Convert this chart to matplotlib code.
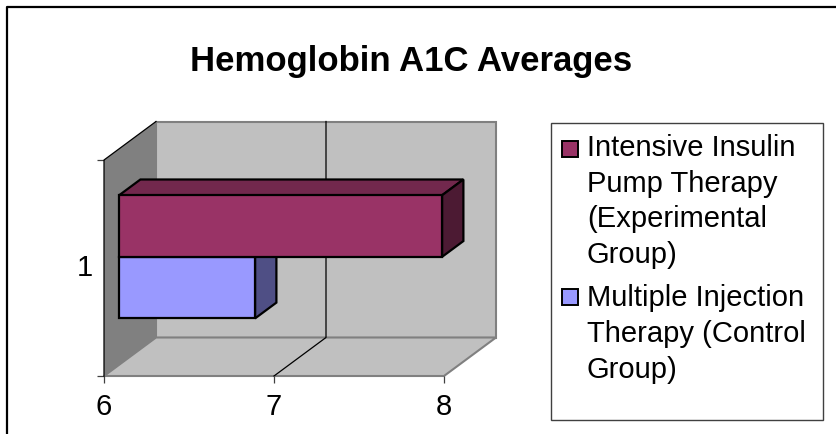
import matplotlib
matplotlib.use('Agg')
import matplotlib.pyplot as plt
from matplotlib.patches import Rectangle

plt.rcParams['font.family'] = ['Liberation Sans', 'DejaVu Sans']

title = 'Hemoglobin A1C Averages'
series_names = ['Intensive Insulin\nPump Therapy\n(Experimental\nGroup)',
                'Multiple Injection\nTherapy (Control\nGroup)']
series_values = [7.9, 6.8]
category = 1
x_ticks = [6, 7, 8]

W, H = 837, 434
XMIN, XMAX = 6, 8
YMIN, YMAX = 0.5, 1.5
# size of the 3d box depth, in data units
DEPTH_X = 52 / 170
DEPTH_Y = 38.5 / 216
BAR_H = 0.285
D0, D1 = 0.29, 0.70

PUMP = ['#993366', '#72284D', '#4C1A33']
CTRL = ['#9999FF', '#7272BF', '#4F4F85']


def proj(x, y, d):
    return x + d * DEPTH_X, y + d * DEPTH_Y


def face(ax, pts, color, ec='k', lw=1.6, z=2):
    xs, ys = zip(*[proj(*p) for p in pts])
    ax.fill(xs, ys, fc=color, ec=ec, lw=lw, zorder=z, clip_on=False, joinstyle='miter')


def draw_bar(ax, val, y0, y1, cols, z):
    face(ax, [(XMIN, y1, D0), (val, y1, D0), (val, y1, D1), (XMIN, y1, D1)], cols[1], z=z)
    face(ax, [(val, y0, D0), (val, y1, D0), (val, y1, D1), (val, y0, D1)], cols[2], z=z)
    face(ax, [(XMIN, y0, D0), (val, y0, D0), (val, y1, D0), (XMIN, y1, D0)], cols[0], z=z + 0.1)


fig = plt.figure(figsize=(W / 100, H / 100), dpi=100)
ax = fig.add_axes([104 / W, (H - 376) / H, 340 / W, 216 / H])
ax.set_xlim(XMIN, XMAX)
ax.set_ylim(YMIN, YMAX)
ax.patch.set_visible(False)
for s in ax.spines.values():
    s.set_visible(False)

# walls
gray = '#C0C0C0'
edge = '#808080'
face(ax, [(XMIN, YMIN, 1), (XMAX, YMIN, 1), (XMAX, YMAX, 1), (XMIN, YMAX, 1)], gray, ec=edge, lw=1.5, z=1)
face(ax, [(XMIN, YMIN, 0), (XMAX, YMIN, 0), (XMAX, YMIN, 1), (XMIN, YMIN, 1)], gray, ec=edge, lw=1.5, z=1)
face(ax, [(XMIN, YMIN, 0), (XMIN, YMIN, 1), (XMIN, YMAX, 1), (XMIN, YMAX, 0)], edge, ec='none', lw=0, z=1.1)

# grid line, runs over the floor then up the back wall
for t in x_ticks[1:-1]:
    xs, ys = zip(proj(t, YMIN, 0), proj(t, YMIN, 1), proj(t, YMAX, 1))
    ax.plot(xs, ys, color='k', lw=0.9, zorder=1.5, clip_on=False)

# left edges of the box
xs, ys = zip(proj(XMIN, YMIN, 0), proj(XMIN, YMAX, 0), proj(XMIN, YMAX, 1))
ax.plot(xs, ys, color='k', lw=0.9, zorder=1.6, clip_on=False)

# bars, second series is under the first
draw_bar(ax, series_values[1], category - BAR_H, category, CTRL, 2)
draw_bar(ax, series_values[0], category, category + BAR_H, PUMP, 3)

ax.set_xticks(x_ticks)
ax.set_yticks([YMIN, YMAX])
ax.set_yticklabels([])
ax.tick_params(axis='both', length=5, width=0.9, color='#404040', labelsize=21)
ax.xaxis.set_tick_params(pad=7.5)
ax.text(-0.032, category, str(category), fontsize=21, ha='right', va='center',
        transform=ax.get_yaxis_transform(), clip_on=False)

fig.text(411 / W, 1 - 61 / H, title, fontsize=25, fontweight='bold', ha='center', va='center')

# legend box, text lines are top aligned with the swatch so placed by hand
fig.add_artist(Rectangle((551 / W, 1 - 420 / H), 272 / W, 297 / H, transform=fig.transFigure,
                         fc='white', ec='#404040', lw=1))
leg_tops = [134, 284.5]
swatch_tops = [141, 289]
for name, top, sw, col in zip(series_names, leg_tops, swatch_tops, [PUMP[0], CTRL[0]]):
    fig.text(587 / W, 1 - top / H, name, fontsize=21, ha='left', va='top', linespacing=1.35)
    fig.add_artist(Rectangle((562.5 / W, 1 - (sw + 16) / H), 16 / W, 16 / H, transform=fig.transFigure,
                             fc=col, ec='k', lw=1.4))

# outer frame, only top and left show
fig.add_artist(plt.Line2D([7 / W, 7 / W, 1], [0, 1 - 7 / H, 1 - 7 / H],
                          color='k', lw=1.6, transform=fig.transFigure))

fig.savefig('out.png', dpi=100)
